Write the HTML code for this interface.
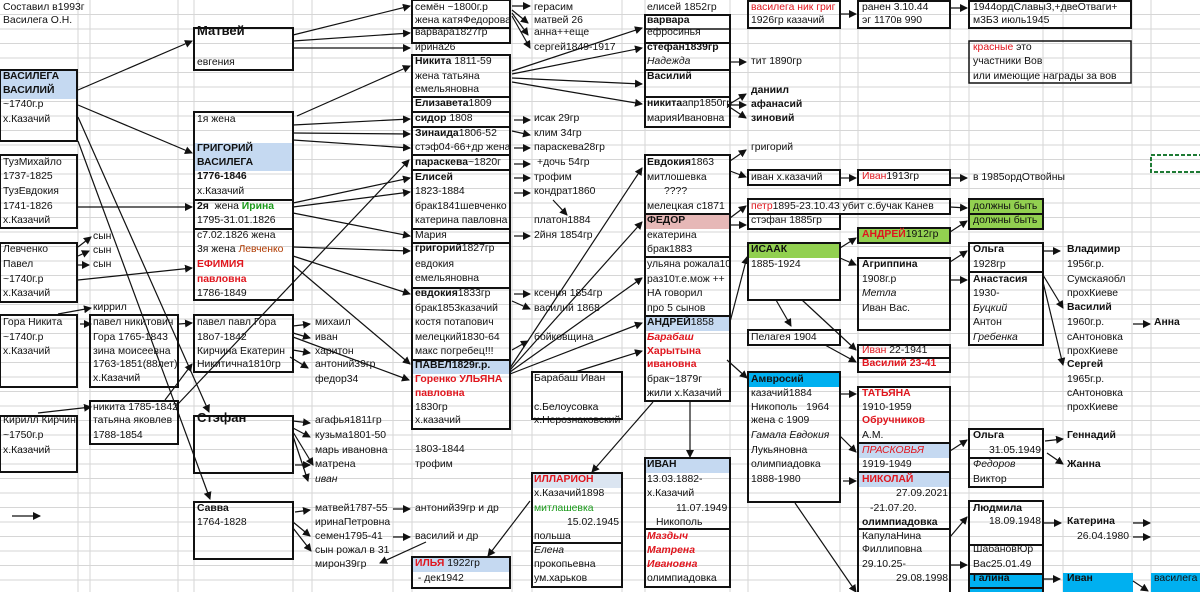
<!DOCTYPE html>
<html><head><meta charset="utf-8">
<style>
html,body{margin:0;padding:0;background:#fff;}
#w{position:relative;width:1200px;height:592px;overflow:hidden;background:#fff;font-family:"Liberation Sans","DejaVu Sans",sans-serif;}
.t{position:absolute;font-size:10.4px;line-height:14px;white-space:nowrap;color:#111;}
.b{font-weight:bold}.i{font-style:italic}.r{color:#e0161e}.g{color:#1a9a1a}
svg{position:absolute;left:0;top:0}
</style></head><body><div id="w">
<svg width="1200" height="592">
<defs><marker id="a" markerWidth="8" markerHeight="8" refX="7" refY="4" orient="auto" markerUnits="userSpaceOnUse"><path d="M0,0L8,4L0,8z" fill="#111"/></marker></defs>
<g stroke="#d6d6d6" stroke-width="1">
<line x1="0" y1="14.5" x2="1200" y2="14.5"/><line x1="0" y1="29" x2="1200" y2="29"/><line x1="0" y1="43.5" x2="1200" y2="43.5"/><line x1="0" y1="58" x2="1200" y2="58"/><line x1="0" y1="72.5" x2="1200" y2="72.5"/><line x1="0" y1="87" x2="1200" y2="87"/><line x1="0" y1="101.5" x2="1200" y2="101.5"/><line x1="0" y1="116" x2="1200" y2="116"/><line x1="0" y1="130.5" x2="1200" y2="130.5"/><line x1="0" y1="145" x2="1200" y2="145"/><line x1="0" y1="159.5" x2="1200" y2="159.5"/><line x1="0" y1="174" x2="1200" y2="174"/><line x1="0" y1="188.5" x2="1200" y2="188.5"/><line x1="0" y1="203" x2="1200" y2="203"/><line x1="0" y1="217.5" x2="1200" y2="217.5"/><line x1="0" y1="232" x2="1200" y2="232"/><line x1="0" y1="246.5" x2="1200" y2="246.5"/><line x1="0" y1="261" x2="1200" y2="261"/><line x1="0" y1="275.5" x2="1200" y2="275.5"/><line x1="0" y1="290" x2="1200" y2="290"/><line x1="0" y1="304.5" x2="1200" y2="304.5"/><line x1="0" y1="319" x2="1200" y2="319"/><line x1="0" y1="333.5" x2="1200" y2="333.5"/><line x1="0" y1="348" x2="1200" y2="348"/><line x1="0" y1="362.5" x2="1200" y2="362.5"/><line x1="0" y1="377" x2="1200" y2="377"/><line x1="0" y1="391.5" x2="1200" y2="391.5"/><line x1="0" y1="406" x2="1200" y2="406"/><line x1="0" y1="420.5" x2="1200" y2="420.5"/><line x1="0" y1="435" x2="1200" y2="435"/><line x1="0" y1="449.5" x2="1200" y2="449.5"/><line x1="0" y1="464" x2="1200" y2="464"/><line x1="0" y1="478.5" x2="1200" y2="478.5"/><line x1="0" y1="493" x2="1200" y2="493"/><line x1="0" y1="507.5" x2="1200" y2="507.5"/><line x1="0" y1="522" x2="1200" y2="522"/><line x1="0" y1="536.5" x2="1200" y2="536.5"/><line x1="0" y1="551" x2="1200" y2="551"/><line x1="0" y1="565.5" x2="1200" y2="565.5"/><line x1="0" y1="580" x2="1200" y2="580"/>
<line x1="78" y1="0" x2="78" y2="592"/><line x1="90" y1="0" x2="90" y2="592"/><line x1="178" y1="0" x2="178" y2="592"/><line x1="194" y1="0" x2="194" y2="592"/><line x1="293" y1="0" x2="293" y2="592"/><line x1="312" y1="0" x2="312" y2="592"/><line x1="393" y1="0" x2="393" y2="592"/><line x1="412" y1="0" x2="412" y2="592"/><line x1="512" y1="0" x2="512" y2="592"/><line x1="532" y1="0" x2="532" y2="592"/><line x1="622" y1="0" x2="622" y2="592"/><line x1="645" y1="0" x2="645" y2="592"/><line x1="730" y1="0" x2="730" y2="592"/><line x1="748" y1="0" x2="748" y2="592"/><line x1="840" y1="0" x2="840" y2="592"/><line x1="858" y1="0" x2="858" y2="592"/><line x1="950" y1="0" x2="950" y2="592"/><line x1="969" y1="0" x2="969" y2="592"/><line x1="1043" y1="0" x2="1043" y2="592"/><line x1="1063" y1="0" x2="1063" y2="592"/><line x1="1132" y1="0" x2="1132" y2="592"/><line x1="1151" y1="0" x2="1151" y2="592"/>
</g>
<g stroke="none">
<rect x="0" y="71" width="77" height="28" fill="#c5d9f1"/>
<rect x="194" y="143" width="99" height="28" fill="#c5d9f1"/>
<rect x="412" y="360" width="100" height="14" fill="#c5d9f1"/>
<rect x="412" y="557" width="98" height="15" fill="#c5d9f1"/>
<rect x="532" y="473" width="90" height="15" fill="#dbe5f1"/>
<rect x="645" y="214" width="85" height="15" fill="#e6b8b7"/>
<rect x="645" y="316" width="85" height="15" fill="#c5d9f1"/>
<rect x="645" y="458" width="85" height="15" fill="#c5d9f1"/>
<rect x="748" y="243" width="92" height="15" fill="#92d050"/>
<rect x="858" y="228" width="92" height="15" fill="#92d050"/>
<rect x="969" y="199" width="74" height="30" fill="#92d050"/>
<rect x="748" y="372" width="92" height="15" fill="#00b0f0"/>
<rect x="858" y="443" width="92" height="15" fill="#c5d9f1"/>
<rect x="858" y="472" width="92" height="15" fill="#c5d9f1"/>
<rect x="969" y="573" width="74" height="19" fill="#00b0f0"/>
<rect x="1063" y="573" width="70" height="19" fill="#00b0f0"/>
<rect x="1151" y="573" width="49" height="19" fill="#00b0f0"/>
</g>
<g fill="none" stroke="#111" stroke-width="2">
<rect x="0" y="70" width="77" height="71"/>
<rect x="0" y="155" width="77" height="73"/>
<rect x="0" y="243" width="77" height="59"/>
<rect x="0" y="315" width="77" height="72"/>
<rect x="0" y="416" width="77" height="56"/>
<rect x="90" y="315" width="88" height="72"/>
<rect x="90" y="401" width="88" height="43"/>
<rect x="194" y="28" width="99" height="42"/>
<rect x="194" y="112" width="99" height="88"/>
<rect x="194" y="200" width="99" height="29"/>
<rect x="194" y="229" width="99" height="71"/>
<rect x="194" y="315" width="99" height="57"/>
<rect x="194" y="416" width="99" height="57"/>
<rect x="194" y="502" width="99" height="57"/>
<rect x="412" y="0" width="98" height="28"/>
<rect x="412" y="28" width="98" height="15"/>
<rect x="412" y="55" width="98" height="42"/>
<rect x="412" y="97" width="98" height="15"/>
<rect x="412" y="112" width="98" height="15"/>
<rect x="412" y="127" width="98" height="28"/>
<rect x="412" y="155" width="98" height="15"/>
<rect x="412" y="170" width="98" height="59"/>
<rect x="412" y="229" width="98" height="14"/>
<rect x="412" y="243" width="98" height="45"/>
<rect x="412" y="288" width="98" height="72"/>
<rect x="412" y="360" width="98" height="69"/>
<rect x="412" y="557" width="98" height="31"/>
<rect x="532" y="372" width="90" height="47"/>
<rect x="532" y="473" width="90" height="114"/>
<line x1="532" y1="543" x2="622" y2="543"/>
<rect x="645" y="15" width="85" height="28"/>
<line x1="645" y1="29" x2="730" y2="29" stroke-width="1.5"/>
<rect x="645" y="43" width="85" height="27"/>
<rect x="645" y="70" width="85" height="27"/>
<rect x="645" y="97" width="85" height="30"/>
<rect x="645" y="155" width="85" height="59"/>
<rect x="645" y="214" width="85" height="43"/>
<rect x="645" y="257" width="85" height="59"/>
<rect x="645" y="316" width="85" height="85"/>
<rect x="645" y="458" width="85" height="129"/>
<line x1="645" y1="529" x2="730" y2="529"/>
<rect x="748" y="1" width="92" height="27"/>
<rect x="748" y="170" width="92" height="15"/>
<rect x="748" y="199" width="202" height="15"/>
<rect x="748" y="214" width="92" height="15"/>
<rect x="748" y="243" width="92" height="57"/>
<rect x="748" y="330" width="92" height="15"/>
<rect x="748" y="372" width="92" height="130"/>
<rect x="858" y="1" width="92" height="27"/>
<rect x="858" y="170" width="92" height="15"/>
<rect x="858" y="228" width="92" height="15"/>
<rect x="858" y="258" width="92" height="72"/>
<rect x="858" y="345" width="92" height="27"/>
<line x1="858" y1="358" x2="950" y2="358"/>
<rect x="858" y="387" width="92" height="210"/>
<line x1="858" y1="443" x2="950" y2="443"/>
<line x1="858" y1="472" x2="950" y2="472"/>
<line x1="858" y1="529" x2="950" y2="529"/>
<rect x="969" y="1" width="162" height="27"/>
<rect x="969" y="41" width="162" height="42" stroke-width="1.5"/>
<rect x="969" y="199" width="74" height="15"/>
<rect x="969" y="214" width="74" height="15"/>
<rect x="969" y="243" width="74" height="29"/>
<rect x="969" y="272" width="74" height="73"/>
<rect x="969" y="429" width="74" height="58"/>
<line x1="969" y1="458" x2="1043" y2="458"/>
<rect x="969" y="501" width="74" height="87"/>
<line x1="969" y1="545" x2="1043" y2="545"/>
<rect x="969" y="574" width="74" height="30"/>
</g>
<rect x="1151" y="155" width="52" height="17" fill="none" stroke="#1e7b34" stroke-width="2" stroke-dasharray="4,2"/>
<g stroke="#111" stroke-width="1.2" marker-end="url(#a)">
<line x1="78" y1="90" x2="192" y2="41"/>
<line x1="78" y1="105" x2="192" y2="153"/>
<line x1="78" y1="117" x2="209" y2="412"/>
<line x1="78" y1="141" x2="210" y2="499"/>
<line x1="78" y1="207" x2="192" y2="207"/>
<line x1="78" y1="280" x2="192" y2="268"/>
<line x1="78" y1="247" x2="91" y2="237"/>
<line x1="78" y1="256" x2="89" y2="251"/>
<line x1="78" y1="265" x2="89" y2="265"/>
<line x1="58" y1="314" x2="91" y2="308"/>
<line x1="80" y1="324" x2="91" y2="324"/>
<line x1="179" y1="324" x2="192" y2="323"/>
<line x1="38" y1="413" x2="91" y2="407"/>
<line x1="12" y1="516" x2="40" y2="516"/>
<line x1="165" y1="400" x2="192" y2="364"/>
<line x1="178" y1="404" x2="409" y2="160"/>
<line x1="293" y1="35" x2="410" y2="6"/>
<line x1="293" y1="41" x2="410" y2="33"/>
<line x1="293" y1="48" x2="410" y2="48"/>
<line x1="297" y1="116" x2="410" y2="66"/>
<line x1="293" y1="125" x2="410" y2="119"/>
<line x1="293" y1="133" x2="410" y2="134"/>
<line x1="293" y1="140" x2="410" y2="148"/>
<line x1="293" y1="203" x2="410" y2="178"/>
<line x1="293" y1="207" x2="410" y2="192"/>
<line x1="293" y1="213" x2="410" y2="236"/>
<line x1="293" y1="247" x2="410" y2="251"/>
<line x1="293" y1="256" x2="410" y2="294"/>
<line x1="293" y1="265" x2="410" y2="364"/>
<line x1="293" y1="326" x2="310" y2="324"/>
<line x1="293" y1="333" x2="310" y2="338"/>
<line x1="293" y1="337" x2="409" y2="380"/>
<line x1="293" y1="350" x2="310" y2="353"/>
<line x1="290" y1="357" x2="308" y2="368"/>
<line x1="293" y1="421" x2="310" y2="423"/>
<line x1="293" y1="428" x2="310" y2="437"/>
<line x1="293" y1="432" x2="313" y2="465"/>
<line x1="293" y1="436" x2="308" y2="481"/>
<line x1="295" y1="512" x2="310" y2="510"/>
<line x1="293" y1="522" x2="310" y2="536"/>
<line x1="293" y1="528" x2="311" y2="551"/>
<line x1="393" y1="509" x2="410" y2="509"/>
<line x1="393" y1="537" x2="410" y2="537"/>
<line x1="426" y1="542" x2="380" y2="563"/>
<line x1="295" y1="465" x2="310" y2="465"/>
<line x1="512" y1="6" x2="530" y2="6"/>
<line x1="512" y1="10" x2="528" y2="23"/>
<line x1="512" y1="13" x2="528" y2="35"/>
<line x1="512" y1="16" x2="530" y2="48"/>
<line x1="512" y1="71" x2="642" y2="28"/>
<line x1="512" y1="74" x2="642" y2="48"/>
<line x1="512" y1="78" x2="642" y2="84"/>
<line x1="512" y1="82" x2="642" y2="104"/>
<line x1="514" y1="120" x2="530" y2="120"/>
<line x1="512" y1="131" x2="530" y2="135"/>
<line x1="514" y1="148" x2="530" y2="148"/>
<line x1="514" y1="164" x2="530" y2="164"/>
<line x1="514" y1="178" x2="530" y2="178"/>
<line x1="514" y1="193" x2="530" y2="193"/>
<line x1="553" y1="200" x2="567" y2="215"/>
<line x1="514" y1="236" x2="530" y2="236"/>
<line x1="514" y1="294" x2="530" y2="294"/>
<line x1="512" y1="301" x2="530" y2="309"/>
<line x1="512" y1="350" x2="528" y2="341"/>
<line x1="510" y1="368" x2="642" y2="168"/>
<line x1="510" y1="370" x2="642" y2="222"/>
<line x1="510" y1="372" x2="642" y2="278"/>
<line x1="510" y1="374" x2="642" y2="323"/>
<line x1="575" y1="372" x2="642" y2="351"/>
<line x1="730" y1="62" x2="746" y2="62"/>
<line x1="728" y1="105" x2="746" y2="94"/>
<line x1="728" y1="105" x2="746" y2="105"/>
<line x1="728" y1="106" x2="746" y2="118"/>
<line x1="730" y1="161" x2="746" y2="150"/>
<line x1="730" y1="171" x2="746" y2="177"/>
<line x1="730" y1="218" x2="746" y2="206"/>
<line x1="730" y1="225" x2="746" y2="225"/>
<line x1="730" y1="322" x2="747" y2="257"/>
<line x1="727" y1="360" x2="747" y2="378"/>
<line x1="690" y1="401" x2="690" y2="457"/>
<line x1="653" y1="402" x2="592" y2="472"/>
<line x1="530" y1="501" x2="488" y2="556"/>
<line x1="840" y1="14" x2="856" y2="14"/>
<line x1="950" y1="8" x2="967" y2="8"/>
<line x1="840" y1="178" x2="856" y2="178"/>
<line x1="950" y1="178" x2="967" y2="178"/>
<line x1="950" y1="207" x2="967" y2="208"/>
<line x1="950" y1="232" x2="967" y2="221"/>
<line x1="840" y1="248" x2="856" y2="238"/>
<line x1="840" y1="258" x2="856" y2="265"/>
<line x1="776" y1="300" x2="791" y2="326"/>
<line x1="802" y1="300" x2="856" y2="350"/>
<line x1="825" y1="345" x2="856" y2="362"/>
<line x1="950" y1="262" x2="967" y2="251"/>
<line x1="950" y1="280" x2="967" y2="280"/>
<line x1="1043" y1="251" x2="1060" y2="251"/>
<line x1="1043" y1="275" x2="1063" y2="308"/>
<line x1="1043" y1="282" x2="1063" y2="365"/>
<line x1="1133" y1="324" x2="1150" y2="324"/>
<line x1="840" y1="394" x2="856" y2="394"/>
<line x1="840" y1="436" x2="856" y2="452"/>
<line x1="843" y1="481" x2="856" y2="481"/>
<line x1="795" y1="503" x2="856" y2="592"/>
<line x1="950" y1="451" x2="967" y2="440"/>
<line x1="950" y1="537" x2="967" y2="517"/>
<line x1="950" y1="565" x2="967" y2="565"/>
<line x1="1045" y1="441" x2="1063" y2="439"/>
<line x1="1047" y1="453" x2="1063" y2="464"/>
<line x1="1043" y1="523" x2="1061" y2="523"/>
<line x1="1133" y1="523" x2="1150" y2="523"/>
<line x1="1133" y1="537" x2="1150" y2="537"/>
<line x1="1043" y1="579" x2="1060" y2="579"/>
<line x1="1133" y1="581" x2="1148" y2="591"/>
</g>
</svg>

<div class="t" style="left:3px;top:1px">Составил в1993г</div>
<div class="t" style="left:3px;top:14px">Василега О.Н.</div>
<div class="t b" style="left:3px;top:70px">ВАСИЛЕГА</div>
<div class="t b" style="left:3px;top:84px">ВАСИЛИЙ</div>
<div class="t" style="left:3px;top:98px">~1740г.р</div>
<div class="t" style="left:3px;top:113px">х.Казачий</div>
<div class="t" style="left:3px;top:156px">ТузМихайло</div>
<div class="t" style="left:3px;top:170px">1737-1825</div>
<div class="t" style="left:3px;top:185px">ТузЕвдокия</div>
<div class="t" style="left:3px;top:200px">1741-1826</div>
<div class="t" style="left:3px;top:214px">х.Казачий</div>
<div class="t" style="left:3px;top:243px">Левченко</div>
<div class="t" style="left:3px;top:258px">Павел</div>
<div class="t" style="left:3px;top:273px">~1740г.р</div>
<div class="t" style="left:3px;top:287px">х.Казачий</div>
<div class="t" style="left:3px;top:316px">Гора Никита</div>
<div class="t" style="left:3px;top:331px">~1740г.р</div>
<div class="t" style="left:3px;top:345px">х.Казачий</div>
<div class="t" style="left:3px;top:414px">Кирилл Кирчин</div>
<div class="t" style="left:3px;top:429px">~1750г.р</div>
<div class="t" style="left:3px;top:444px">х.Казачий</div>
<div class="t" style="left:93px;top:230px">сын</div>
<div class="t" style="left:93px;top:244px">сын</div>
<div class="t" style="left:93px;top:258px">сын</div>
<div class="t" style="left:93px;top:301px">киррил</div>
<div class="t" style="left:93px;top:316px">павел никитович</div>
<div class="t" style="left:93px;top:331px">Гора 1765-1843</div>
<div class="t" style="left:93px;top:345px">зина моисеевна</div>
<div class="t" style="left:93px;top:358px">1763-1851(88лет)</div>
<div class="t" style="left:93px;top:372px">х.Казачий</div>
<div class="t" style="left:93px;top:401px">никита 1785-1842</div>
<div class="t" style="left:93px;top:414px">татьяна яковлев</div>
<div class="t" style="left:93px;top:429px">1788-1854</div>

<div class="t b" style="left:197px;top:24px;font-size:13px">Матвей</div>
<div class="t" style="left:197px;top:56px">евгения</div>
<div class="t" style="left:197px;top:113px">1я жена</div>
<div class="t b" style="left:197px;top:142px">ГРИГОРИЙ</div>
<div class="t b" style="left:197px;top:156px">ВАСИЛЕГА</div>
<div class="t b" style="left:197px;top:170px">1776-1846</div>
<div class="t" style="left:197px;top:185px">х.Казачий</div>
<div class="t" style="left:197px;top:200px"><b>2я</b>&nbsp; жена <b class="g">Ирина</b></div>
<div class="t" style="left:197px;top:214px">1795-31.01.1826</div>
<div class="t" style="left:197px;top:229px">с7.02.1826 жена</div>
<div class="t" style="left:197px;top:243px">3я жена <span style="color:#b03a00">Левченко</span></div>
<div class="t b r" style="left:197px;top:258px">ЕФИМИЯ</div>
<div class="t b r" style="left:197px;top:273px">павловна</div>
<div class="t" style="left:197px;top:287px">1786-1849</div>
<div class="t" style="left:197px;top:316px">павел павл Гора</div>
<div class="t" style="left:197px;top:331px">18о7-1842</div>
<div class="t" style="left:197px;top:345px">Кирчина Екатерин</div>
<div class="t" style="left:197px;top:358px">Никитична1810гр</div>
<div class="t b" style="left:197px;top:411px;font-size:13px">Стэфан</div>
<div class="t b" style="left:197px;top:502px">Савва</div>
<div class="t" style="left:197px;top:516px">1764-1828</div>

<div class="t" style="left:315px;top:316px">михаил</div>
<div class="t" style="left:315px;top:331px">иван</div>
<div class="t" style="left:315px;top:345px">харитон</div>
<div class="t" style="left:315px;top:358px">антоний39гр</div>
<div class="t" style="left:315px;top:373px">федор34</div>
<div class="t" style="left:315px;top:414px">агафья1811гр</div>
<div class="t" style="left:315px;top:429px">кузьма1801-50</div>
<div class="t" style="left:315px;top:444px">марь ивановна</div>
<div class="t" style="left:315px;top:458px">матрена</div>
<div class="t i" style="left:315px;top:473px">иван</div>
<div class="t" style="left:315px;top:502px">матвей1787-55</div>
<div class="t" style="left:315px;top:516px">иринаПетровна</div>
<div class="t" style="left:315px;top:530px">семен1795-41</div>
<div class="t" style="left:315px;top:544px">сын рожал в 31</div>
<div class="t" style="left:315px;top:558px">мирон39гр</div>

<div class="t" style="left:415px;top:1px">семён ~1800г.р</div>
<div class="t" style="left:415px;top:14px">жена катяФедорова</div>
<div class="t" style="left:415px;top:26px">варвара1827гр</div>
<div class="t" style="left:415px;top:41px">ирина26</div>
<div class="t" style="left:415px;top:55px"><b>Никита</b> 1811-59</div>
<div class="t" style="left:415px;top:70px">жена татьяна</div>
<div class="t" style="left:415px;top:83px">емельяновна</div>
<div class="t" style="left:415px;top:97px"><b>Елизавета</b>1809</div>
<div class="t" style="left:415px;top:112px"><b>сидор</b> 1808</div>
<div class="t" style="left:415px;top:127px"><b>Зинаида</b>1806-52</div>
<div class="t" style="left:415px;top:141px">стэф04-66+др жена</div>
<div class="t" style="left:415px;top:156px"><b>параскева</b>~1820г</div>
<div class="t b" style="left:415px;top:171px">Елисей</div>
<div class="t" style="left:415px;top:185px">1823-1884</div>
<div class="t" style="left:415px;top:200px">брак1841шевченко</div>
<div class="t" style="left:415px;top:214px">катерина павловна</div>
<div class="t" style="left:415px;top:229px">Мария</div>
<div class="t" style="left:415px;top:242px"><b>григорий</b>1827гр</div>
<div class="t" style="left:415px;top:258px">евдокия</div>
<div class="t" style="left:415px;top:272px">емельяновна</div>
<div class="t" style="left:415px;top:287px"><b>евдокия</b>1833гр</div>
<div class="t" style="left:415px;top:302px">брак1853казачий</div>
<div class="t" style="left:415px;top:316px">костя потапович</div>
<div class="t" style="left:415px;top:331px">мелецкий1830-64</div>
<div class="t" style="left:415px;top:345px">макс погребец!!!</div>
<div class="t b" style="left:415px;top:359px">ПАВЕЛ1829г.р.</div>
<div class="t b r" style="left:415px;top:373px">Горенко УЛЬЯНА</div>
<div class="t b r" style="left:415px;top:387px">павловна</div>
<div class="t" style="left:415px;top:401px">1830гр</div>
<div class="t" style="left:415px;top:414px">х.казачий</div>
<div class="t" style="left:415px;top:443px">1803-1844</div>
<div class="t" style="left:415px;top:458px">трофим</div>
<div class="t" style="left:415px;top:502px">антоний39гр и др</div>
<div class="t" style="left:415px;top:530px">василий и др</div>
<div class="t" style="left:415px;top:557px"><b class="r">ИЛЬЯ</b> 1922гр</div>
<div class="t" style="left:415px;top:572px">&nbsp;- дек1942</div>

<div class="t" style="left:534px;top:1px">герасим</div>
<div class="t" style="left:534px;top:14px">матвей 26</div>
<div class="t" style="left:534px;top:26px">анна++еще</div>
<div class="t" style="left:534px;top:41px">сергей1849-1917</div>
<div class="t" style="left:534px;top:112px">исак 29гр</div>
<div class="t" style="left:534px;top:127px">клим 34гр</div>
<div class="t" style="left:534px;top:141px">параскева28гр</div>
<div class="t" style="left:537px;top:156px">+дочь 54гр</div>
<div class="t" style="left:534px;top:171px">трофим</div>
<div class="t" style="left:534px;top:185px">кондрат1860</div>
<div class="t" style="left:534px;top:214px">платон1884</div>
<div class="t" style="left:534px;top:229px">2йня 1854гр</div>
<div class="t" style="left:534px;top:287px">ксения 1854гр</div>
<div class="t" style="left:534px;top:302px">василий 1868</div>
<div class="t" style="left:534px;top:331px">бойковщина</div>
<div class="t" style="left:534px;top:372px">Барабаш Иван</div>
<div class="t" style="left:534px;top:401px">с.Белоусовка</div>
<div class="t" style="left:534px;top:414px">х.Нерознаковский</div>
<div class="t b r" style="left:534px;top:473px">ИЛЛАРИОН</div>
<div class="t" style="left:534px;top:487px">х.Казачий1898</div>
<div class="t g" style="left:534px;top:502px">митлашевка</div>
<div class="t" style="left:567px;top:516px">15.02.1945</div>
<div class="t" style="left:534px;top:530px">польша</div>
<div class="t i" style="left:534px;top:544px">Елена</div>
<div class="t" style="left:534px;top:558px">прокопьевна</div>
<div class="t" style="left:534px;top:572px">ум.харьков</div>

<div class="t" style="left:647px;top:1px">елисей 1852гр</div>
<div class="t b" style="left:647px;top:14px">варвара</div>
<div class="t" style="left:647px;top:26px">ефросинья</div>
<div class="t b" style="left:647px;top:41px">стефан1839гр</div>
<div class="t i" style="left:647px;top:55px">Надежда</div>
<div class="t b" style="left:647px;top:70px">Василий</div>
<div class="t" style="left:647px;top:97px"><b>никита</b>апр1850гр</div>
<div class="t" style="left:647px;top:112px">марияИвановна</div>
<div class="t" style="left:647px;top:156px"><b>Евдокия</b>1863</div>
<div class="t" style="left:647px;top:171px">митлошевка</div>
<div class="t" style="left:664px;top:185px">????</div>
<div class="t" style="left:647px;top:200px">мелецкая с1871</div>
<div class="t b" style="left:647px;top:214px">ФЕДОР</div>
<div class="t" style="left:647px;top:229px">екатерина</div>
<div class="t" style="left:647px;top:243px">брак1883</div>
<div class="t" style="left:647px;top:258px">ульяна рожала10</div>
<div class="t" style="left:647px;top:273px">раз10т.е.мож ++</div>
<div class="t" style="left:647px;top:287px">НА говорил</div>
<div class="t" style="left:647px;top:302px">про 5 сынов</div>
<div class="t" style="left:647px;top:316px"><b>АНДРЕЙ</b>1858</div>
<div class="t b i r" style="left:647px;top:331px">Барабаш</div>
<div class="t b r" style="left:647px;top:345px">Харытына</div>
<div class="t b r" style="left:647px;top:358px">ивановна</div>
<div class="t" style="left:647px;top:373px">брак~1879г</div>
<div class="t" style="left:647px;top:387px">жили х.Казачий</div>
<div class="t b" style="left:647px;top:458px">ИВАН</div>
<div class="t" style="left:647px;top:473px">13.03.1882-</div>
<div class="t" style="left:647px;top:487px">х.Казачий</div>
<div class="t" style="left:676px;top:502px">11.07.1949</div>
<div class="t" style="left:656px;top:516px">Никополь</div>
<div class="t b i r" style="left:647px;top:530px">Маздыч</div>
<div class="t b i r" style="left:647px;top:544px">Матрена</div>
<div class="t b i r" style="left:647px;top:558px">Ивановна</div>
<div class="t" style="left:647px;top:572px">олимпиадовка</div>

<div class="t r" style="left:751px;top:1px">василега ник григ</div>
<div class="t" style="left:751px;top:14px">1926гр казачий</div>
<div class="t" style="left:751px;top:55px">тит 1890гр</div>
<div class="t b" style="left:751px;top:84px">даниил</div>
<div class="t b" style="left:751px;top:98px">афанасий</div>
<div class="t b" style="left:751px;top:112px">зиновий</div>
<div class="t" style="left:751px;top:141px">григорий</div>
<div class="t" style="left:751px;top:171px">иван х.казачий</div>
<div class="t" style="left:751px;top:200px"><span class="r">петр</span>1895-23.10.43 убит с.бучак Канев</div>
<div class="t" style="left:751px;top:214px">стэфан 1885гр</div>
<div class="t b" style="left:751px;top:243px">ИСААК</div>
<div class="t" style="left:751px;top:258px">1885-1924</div>
<div class="t" style="left:751px;top:331px">Пелагея 1904</div>
<div class="t b" style="left:751px;top:373px">Амвросий</div>
<div class="t" style="left:751px;top:387px">казачий1884</div>
<div class="t" style="left:751px;top:401px">Никополь &nbsp;&nbsp;1964</div>
<div class="t" style="left:751px;top:414px">жена с 1909</div>
<div class="t i" style="left:751px;top:429px">Гамала Евдокия</div>
<div class="t" style="left:751px;top:444px">Лукьяновна</div>
<div class="t" style="left:751px;top:458px">олимпиадовка</div>
<div class="t" style="left:751px;top:473px">1888-1980</div>

<div class="t" style="left:862px;top:1px">ранен 3.10.44</div>
<div class="t" style="left:862px;top:14px">эг 1170в 990</div>
<div class="t" style="left:862px;top:170px"><span class="r">Иван</span>1913гр</div>
<div class="t" style="left:862px;top:228px"><b class="r">АНДРЕЙ</b>1912гр</div>
<div class="t b" style="left:862px;top:258px">Агриппина</div>
<div class="t" style="left:862px;top:273px">1908г.р</div>
<div class="t i" style="left:862px;top:287px">Метла</div>
<div class="t" style="left:862px;top:302px">Иван Вас.</div>
<div class="t" style="left:862px;top:344px"><span class="r">Иван</span> 22-1941</div>
<div class="t b r" style="left:862px;top:357px">Василий 23-41</div>
<div class="t b r" style="left:862px;top:387px">ТАТЬЯНА</div>
<div class="t" style="left:862px;top:401px">1910-1959</div>
<div class="t b r" style="left:862px;top:414px">Обручников</div>
<div class="t" style="left:862px;top:429px">А.М.</div>
<div class="t i r" style="left:862px;top:444px">ПРАСКОВЬЯ</div>
<div class="t" style="left:862px;top:458px">1919-1949</div>
<div class="t b r" style="left:862px;top:473px">НИКОЛАЙ</div>
<div class="t" style="left:896px;top:487px">27.09.2021</div>
<div class="t" style="left:870px;top:502px">-21.07.20.</div>
<div class="t b" style="left:862px;top:516px">олимпиадовка</div>
<div class="t" style="left:862px;top:530px">КапулаНина</div>
<div class="t" style="left:862px;top:543px">Филлиповна</div>
<div class="t" style="left:862px;top:558px">29.10.25-</div>
<div class="t" style="left:896px;top:572px">29.08.1998</div>

<div class="t" style="left:973px;top:1px">1944ордСлавы3,+двеОтваги+</div>
<div class="t" style="left:973px;top:14px">м3Б3 июль1945</div>
<div class="t" style="left:973px;top:41px"><span class="r">красные</span> это</div>
<div class="t" style="left:973px;top:55px">участники Вов</div>
<div class="t" style="left:973px;top:70px">или имеющие награды за вов</div>
<div class="t" style="left:973px;top:171px">в 1985ордОтвойны</div>
<div class="t" style="left:973px;top:200px">должны быть</div>
<div class="t" style="left:973px;top:214px">должны быть</div>
<div class="t b" style="left:973px;top:243px">Ольга</div>
<div class="t" style="left:973px;top:258px">1928гр</div>
<div class="t b" style="left:973px;top:273px">Анастасия</div>
<div class="t" style="left:973px;top:287px">1930-</div>
<div class="t i" style="left:973px;top:302px">Буцкий</div>
<div class="t" style="left:973px;top:316px">Антон</div>
<div class="t i" style="left:973px;top:331px">Гребенка</div>
<div class="t b" style="left:973px;top:429px">Ольга</div>
<div class="t" style="left:989px;top:444px">31.05.1949</div>
<div class="t i" style="left:973px;top:458px">Федоров</div>
<div class="t" style="left:973px;top:473px">Виктор</div>
<div class="t b" style="left:973px;top:502px">Людмила</div>
<div class="t" style="left:989px;top:515px">18.09.1948</div>
<div class="t" style="left:973px;top:543px">ШабановЮр</div>
<div class="t" style="left:973px;top:558px">Вас25.01.49</div>
<div class="t b" style="left:973px;top:572px">Галина</div>

<div class="t b" style="left:1067px;top:243px">Владимир</div>
<div class="t" style="left:1067px;top:258px">1956г.р.</div>
<div class="t" style="left:1067px;top:273px">Сумскаяобл</div>
<div class="t" style="left:1067px;top:287px">прохКиеве</div>
<div class="t b" style="left:1067px;top:301px">Василий</div>
<div class="t" style="left:1067px;top:316px">1960г.р.</div>
<div class="t" style="left:1067px;top:331px">сАнтоновка</div>
<div class="t" style="left:1067px;top:345px">прохКиеве</div>
<div class="t b" style="left:1067px;top:358px">Сергей</div>
<div class="t" style="left:1067px;top:373px">1965г.р.</div>
<div class="t" style="left:1067px;top:387px">сАнтоновка</div>
<div class="t" style="left:1067px;top:401px">прохКиеве</div>
<div class="t b" style="left:1067px;top:429px">Геннадий</div>
<div class="t b" style="left:1067px;top:458px">Жанна</div>
<div class="t b" style="left:1067px;top:515px">Катерина</div>
<div class="t" style="left:1077px;top:530px">26.04.1980</div>
<div class="t b" style="left:1067px;top:572px">Иван</div>
<div class="t b" style="left:1154px;top:316px">Анна</div>
<div class="t" style="left:1154px;top:572px">василега</div>
</div></body></html>
